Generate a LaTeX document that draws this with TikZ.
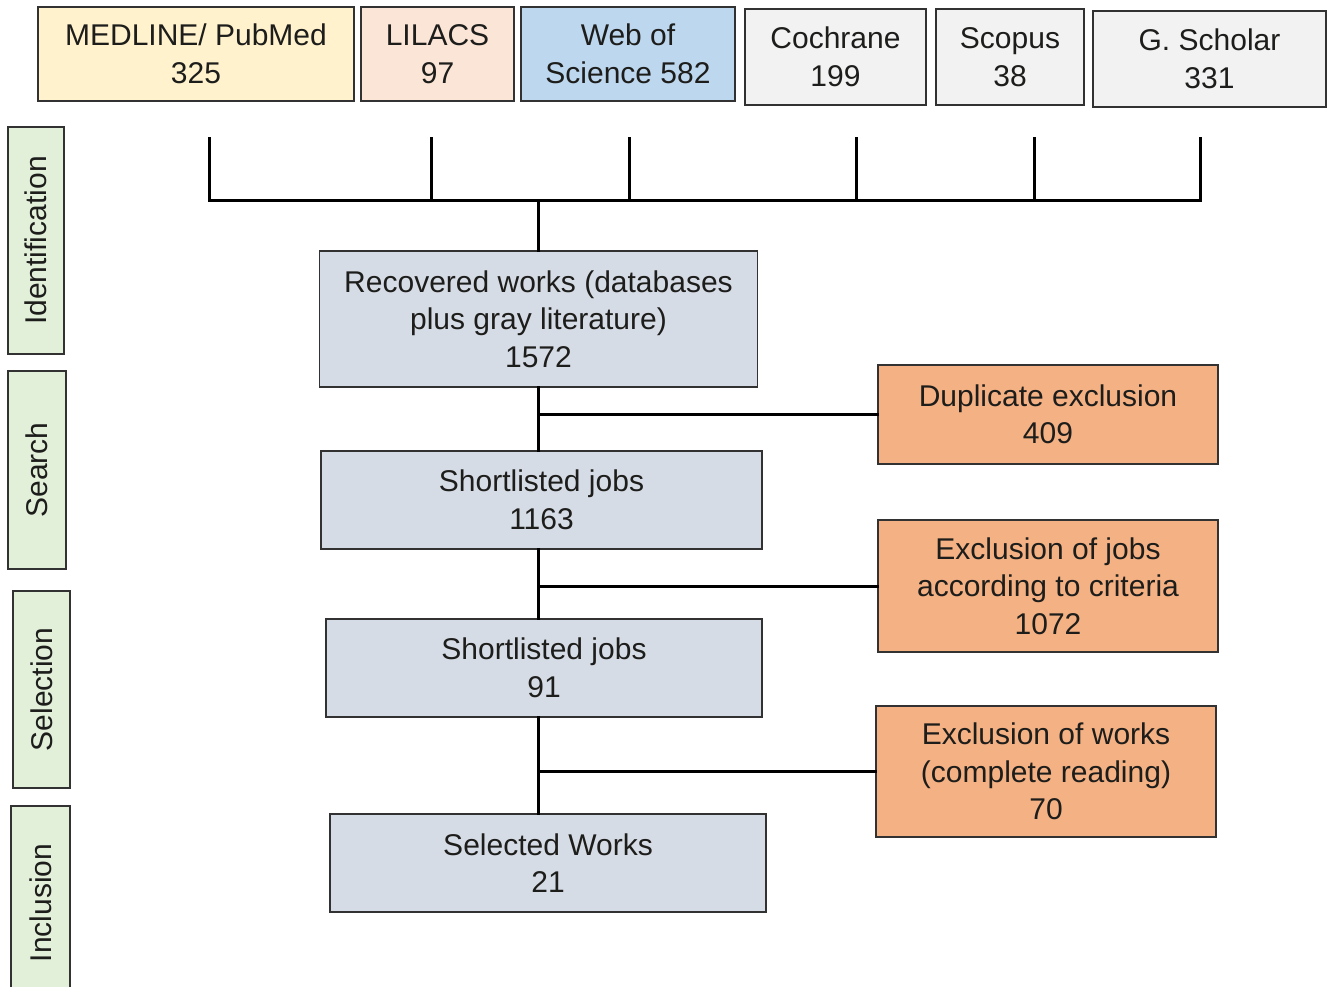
\documentclass[tikz,border=0pt]{standalone}
\usepackage{fontspec}
\setmainfont{Liberation Sans}
\usepackage{tikz}
\usetikzlibrary{positioning,calc}
\definecolor{colortext}   {RGB}{ 29, 29, 27}
\definecolor{colorline}   {RGB}{ 50, 50, 50}
\definecolor{colormedline}{RGB}{255,242,204}
\definecolor{colorlilacs} {RGB}{251,229,214}
\definecolor{colorwos}    {RGB}{189,215,238}
\definecolor{colorother}  {RGB}{242,242,242}
\definecolor{colorstage}  {RGB}{226,240,217}
\definecolor{colorflow}   {RGB}{214,220,229}
\definecolor{colorexcl}   {RGB}{244,177,131}

\begin{document}
\begin{tikzpicture}[
    x=0.5pt, y=-0.5pt,
    font={\fontsize{15}{18.75}\selectfont},
    base/.style={text=colortext,draw=colorline,line width=0.7pt,inner sep=0pt,align=center,rectangle},
    source/.style={base,minimum height=47pt},
    stage/.style={base,fill=colorstage,rotate=90},
    flow/.style={base,fill=colorflow,minimum width=219pt},
    excl/.style={base,fill=colorexcl,minimum width=170pt},
    link/.style={draw=black,line width=1.5pt,line cap=rect},
]
    \useasboundingbox (0,0) rectangle (1327,986);

    % databases
    \node[source,fill=colormedline,minimum width=158pt]   (medline)  at (196,54)    {MEDLINE/ PubMed\\325};
    \node[source,fill=colorlilacs,minimum width=76.5pt]   (lilacs)   at (437.5,54)  {LILACS\\97};
    \node[source,fill=colorwos,minimum width=107pt]       (wos)      at (628,54)    {Web of\\Science 582};
    \node[source,fill=colorother,minimum width=90.5pt,minimum height=48pt] (cochrane) at (835.5,57) {Cochrane\\199};
    \node[source,fill=colorother,minimum width=74pt,minimum height=48pt]   (scopus)   at (1010,57)  {Scopus\\38};
    \node[source,fill=colorother,minimum width=116.5pt,minimum height=48pt] (scholar) at (1209.5,59) {G. Scholar\\331};

    % stages
    \node[stage,minimum width=113.5pt,minimum height=28pt] (ident)     at (36,240.5)  {Identification};
    \node[stage,minimum width=99pt,minimum height=29pt]    (search)    at (37,470)    {Search};
    \node[stage,minimum width=98.5pt,minimum height=28.5pt] (selection) at (41.5,689.5) {Selection};
    \node[stage,minimum width=97pt,minimum height=29.5pt]  (inclusion) at (40.5,903)  {Inclusion};

    % flow
    \node[flow,minimum height=68pt] (recovered) at (538.5,319) {Recovered works (databases\\plus gray literature)\\1572};
    \node[flow,minimum width=220.5pt,minimum height=49pt] (short1) at (541.5,500) {Shortlisted jobs\\1163};
    \node[flow,minimum width=218pt,minimum height=49pt]   (short2) at (544,668)   {Shortlisted jobs\\91};
    \node[flow,minimum width=218pt,minimum height=49pt]   (selected) at (548,863) {Selected Works\\21};

    % exclusions
    \node[excl,minimum height=49.5pt] (dup)      at (1048,414.5) {Duplicate exclusion\\409};
    \node[excl,minimum height=66pt]   (excjobs)  at (1048,586)   {Exclusion of jobs\\according to criteria\\1072};
    \node[excl,minimum height=65.5pt] (excworks) at (1046,771.5) {Exclusion of works\\(complete reading)\\70};

    % bus
    \foreach \x [count=\i] in {209,431,629,856,1034,1200} {
        \coordinate (top\i) at (\x,138);
        \coordinate (bus\i) at (\x,200);
        \draw[link] (top\i) -- (bus\i);
    }
    \draw[link] (bus1) -- (bus6);
    \draw[link] (recovered.north |- bus1) -- (recovered.north);

    % trunk
    \draw[link] (recovered.south) -- (recovered.south |- short1.north);
    \draw[link] (recovered.south |- short1.south) -- (recovered.south |- short2.north);
    \draw[link] (recovered.south |- short2.south) -- (recovered.south |- selected.north);
    \draw[link] (recovered.south |- dup.west) -- (dup.west);
    \draw[link] (recovered.south |- excjobs.west) -- (excjobs.west);
    \draw[link] (recovered.south |- excworks.west) -- (excworks.west);

\end{tikzpicture}
\end{document}
